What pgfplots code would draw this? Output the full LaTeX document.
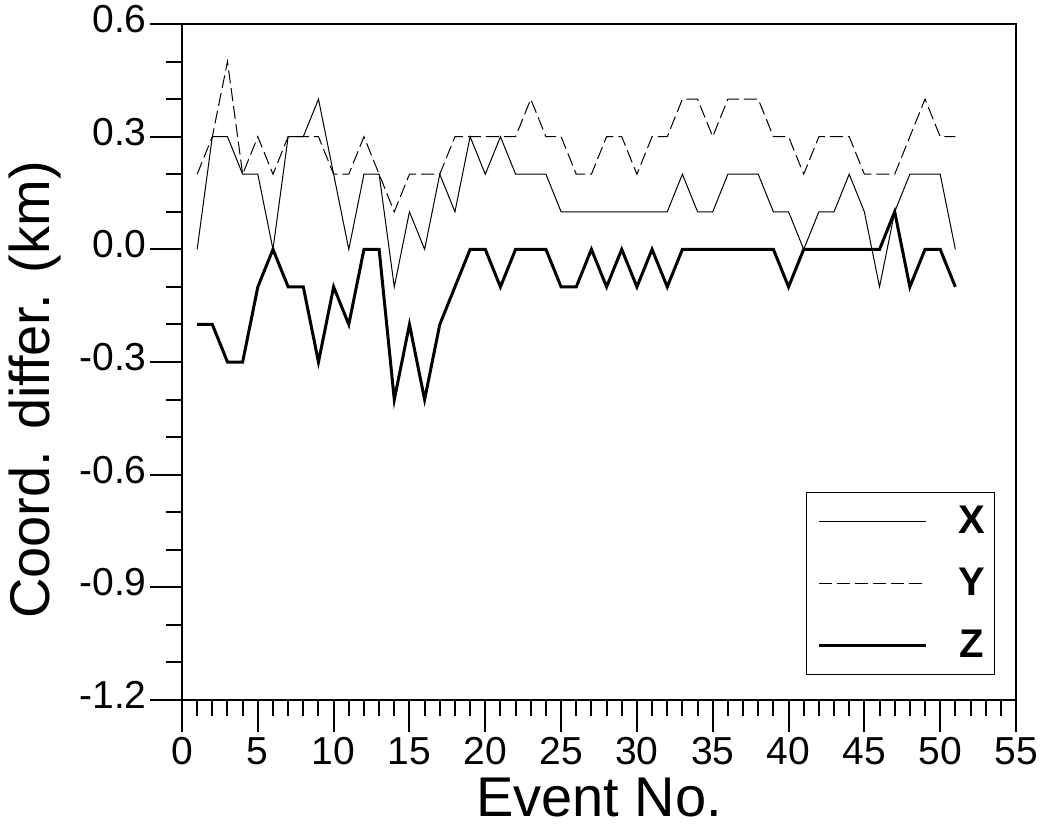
\documentclass[border=0pt]{standalone}
\usepackage{fontspec}
\setmainfont{Liberation Sans}
\usepackage{pgfplots}
\pgfplotsset{compat=1.18}

\begin{document}
\begin{tikzpicture}
\useasboundingbox (-91pt,-65pt) rectangle (430pt,350pt);
\begin{axis}[
  at={(0,0)}, anchor=south west,
  scale only axis,
  width=417pt, height=338pt,
  xmin=0, xmax=55, ymin=-1.2, ymax=0.6,
  xtick={0,5,...,55}, minor x tick num=4,
  ytick={-1.2,-0.9,-0.6,-0.3,0,0.3,0.6}, minor y tick num=2,
  tick pos=left, tick align=outside,
  major tick length=16pt, minor tick length=8pt,
  every tick/.style={black, line width=1pt},
  axis line style={line width=1.4pt},
  /pgf/number format/assume math mode=true,
  typeset ticklabels with strut,
  yticklabel style={/pgf/number format/fixed, /pgf/number format/fixed zerofill, /pgf/number format/precision=1, inner sep=1.5pt},
  xticklabel style={inner sep=1.5pt},
  ticklabel style={font=\fontsize{19.5}{21}\selectfont},
  xlabel={Event No.},
  ylabel={Coord. differ. (km)},
  label style={font=\fontsize{28}{32}\selectfont},
  xlabel style={yshift=5pt},
  ylabel style={at={(ticklabel cs:0.4586,4pt)}},
  legend image code/.code={\draw[#1] (0pt,0pt) -- (53.5pt,0pt);},
  legend style={at={(0.9748,0.037)}, anchor=south east,
    draw=black, line width=0.6pt,
    inner xsep=5.5pt, inner ysep=6.5pt,
    row sep=15pt, column sep=16pt,
    nodes={inner sep=0pt, minimum height=16pt}},
]

% X
\addplot[black, line width=0.5pt] coordinates {
(1,0.0)(2,0.3)(3,0.3)(4,0.2)(5,0.2)(6,0.0)(7,0.3)(8,0.3)(9,0.4)(10,0.2)
(11,0.0)(12,0.2)(13,0.2)(14,-0.1)(15,0.1)(16,0.0)(17,0.2)(18,0.1)(19,0.3)(20,0.2)
(21,0.3)(22,0.2)(23,0.2)(24,0.2)(25,0.1)(26,0.1)(27,0.1)(28,0.1)(29,0.1)(30,0.1)
(31,0.1)(32,0.1)(33,0.2)(34,0.1)(35,0.1)(36,0.2)(37,0.2)(38,0.2)(39,0.1)(40,0.1)
(41,0.0)(42,0.1)(43,0.1)(44,0.2)(45,0.1)(46,-0.1)(47,0.1)(48,0.2)(49,0.2)(50,0.2)
(51,0.0)};

% Y
\addplot[black, line width=0.5pt, dash pattern=on 6.5pt off 2.5pt] coordinates {
(1,0.2)(2,0.3)(3,0.5)(4,0.2)(5,0.3)(6,0.2)(7,0.3)(8,0.3)(9,0.3)(10,0.2)
(11,0.2)(12,0.3)(13,0.2)(14,0.1)(15,0.2)(16,0.2)(17,0.2)(18,0.3)(19,0.3)(20,0.3)
(21,0.3)(22,0.3)(23,0.4)(24,0.3)(25,0.3)(26,0.2)(27,0.2)(28,0.3)(29,0.3)(30,0.2)
(31,0.3)(32,0.3)(33,0.4)(34,0.4)(35,0.3)(36,0.4)(37,0.4)(38,0.4)(39,0.3)(40,0.3)
(41,0.2)(42,0.3)(43,0.3)(44,0.3)(45,0.2)(46,0.2)(47,0.2)(48,0.3)(49,0.4)(50,0.3)
(51,0.3)};

% Z
\addplot[black, line width=1.5pt] coordinates {
(1,-0.2)(2,-0.2)(3,-0.3)(4,-0.3)(5,-0.1)(6,0.0)(7,-0.1)(8,-0.1)(9,-0.3)(10,-0.1)
(11,-0.2)(12,0.0)(13,0.0)(14,-0.4)(15,-0.2)(16,-0.4)(17,-0.2)(18,-0.1)(19,0.0)(20,0.0)
(21,-0.1)(22,0.0)(23,0.0)(24,0.0)(25,-0.1)(26,-0.1)(27,0.0)(28,-0.1)(29,0.0)(30,-0.1)
(31,0.0)(32,-0.1)(33,0.0)(34,0.0)(35,0.0)(36,0.0)(37,0.0)(38,0.0)(39,0.0)(40,-0.1)
(41,0.0)(42,0.0)(43,0.0)(44,0.0)(45,0.0)(46,0.0)(47,0.1)(48,-0.1)(49,0.0)(50,0.0)
(51,-0.1)};

\legend{\makebox[12pt]{\fontsize{20}{22}\selectfont\bfseries X},
        \makebox[12pt]{\fontsize{20}{22}\selectfont\bfseries Y},
        \makebox[12pt]{\fontsize{20}{22}\selectfont\bfseries Z}}
\end{axis}
\end{tikzpicture}
\end{document}
